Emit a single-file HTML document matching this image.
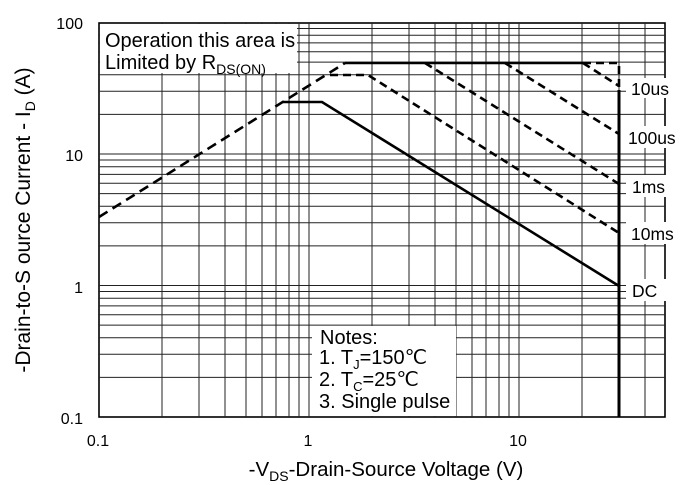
<!DOCTYPE html>
<html><head><style>
html,body{margin:0;padding:0;background:#fff;width:680px;height:485px;overflow:hidden}
svg{font-family:"Liberation Sans",Arial,sans-serif}
</style></head><body>
<svg width="680" height="485" viewBox="0 0 680 485" xmlns="http://www.w3.org/2000/svg">
<rect x="99" y="23" width="566" height="394" fill="none" stroke="#000" stroke-width="1.6"/>
<g stroke="#222" stroke-width="1">
<path d="M162 23V417M199 23V417M225 23V417M246 23V417M262 23V417M276 23V417M289 23V417M299 23V417M309 23V417M372 23V417M409 23V417M435 23V417M456 23V417M472 23V417M486 23V417M499 23V417M509 23V417M519 23V417M582 23V417M619 23V417M645 23V417"/>
<path d="M99 377.4H665M99 354.3H665M99 337.8H665M99 325.1H665M99 314.7H665M99 305.9H665M99 298.2H665M99 291.5H665M99 285.5H665M99 245.9H665M99 222.8H665M99 206.3H665M99 193.6H665M99 183.2H665M99 174.4H665M99 166.7H665M99 160H665M99 154H665M99 114.4H665M99 91.3H665M99 74.8H665M99 62.1H665M99 51.7H665M99 42.9H665M99 35.2H665M99 28.5H665"/>
</g>
<rect x="100" y="24" width="197" height="49" fill="#fff"/>
<rect x="312" y="326" width="144" height="90" fill="#fff"/>
<rect x="626" y="78" width="44" height="20" fill="#fff"/>
<rect x="626" y="126" width="54" height="22" fill="#fff"/>
<rect x="626" y="175" width="44" height="22" fill="#fff"/>
<rect x="626" y="222" width="44" height="22" fill="#fff"/>
<rect x="626" y="279" width="44" height="22" fill="#fff"/>
<g fill="none" stroke="#000" stroke-width="2.6">
<path d="M99 217L345 63" stroke-dasharray="10,6"/>
<path d="M345 63H583"/>
<path d="M583 63H619V90" stroke-dasharray="8,5"/>
<path d="M583 63L619 86" stroke-dasharray="8,5"/>
<path d="M505 63L619 134" stroke-dasharray="8,5"/>
<path d="M425 63L619 184" stroke-dasharray="8,5"/>
<path d="M330 75H368L619 233" stroke-dasharray="8,5"/>
<path d="M283 102H322L619 286"/>
<path d="M619 90V417" stroke-width="3"/>
</g>
<g font-size="20" fill="#000">
<text x="105" y="47">Operation this area is</text>
<text x="105" y="69">Limited  by R<tspan font-size="14" dy="5">DS(ON)</tspan></text>
<text x="320" y="344">Notes:</text>
<text x="319" y="364">1. T<tspan font-size="13" dy="5">J</tspan><tspan dy="-5">=150℃</tspan></text>
<text x="319" y="386">2. T<tspan font-size="13" dy="5">C</tspan><tspan dy="-5">=25℃</tspan></text>
<text x="319" y="408">3. Single pulse</text>
</g>
<g font-size="17.5" fill="#000">
<text x="631" y="95">10us</text>
<text x="628" y="144">100us</text>
<text x="632" y="193">1ms</text>
<text x="631" y="240">10ms</text>
<text x="632" y="297">DC</text>
</g>
<g font-size="16" fill="#000" text-anchor="end">
<text x="83" y="29">100</text>
<text x="83" y="161">10</text>
<text x="83" y="293">1</text>
<text x="83" y="424">0.1</text>
</g>
<g font-size="16" fill="#000" text-anchor="middle">
<text x="98" y="446">0.1</text>
<text x="308" y="446">1</text>
<text x="518" y="446">10</text>
</g>
<text x="386" y="476" font-size="20.5" text-anchor="middle">-V<tspan font-size="14" dy="5">DS</tspan><tspan dy="-5">-Drain-Source Voltage (V)</tspan></text>
<text transform="translate(30,220) rotate(-90)" font-size="21" text-anchor="middle">-Drain-to-S ource Current - I<tspan font-size="14" dy="5">D</tspan><tspan dy="-5"> (A)</tspan></text>
</svg>
</body></html>
